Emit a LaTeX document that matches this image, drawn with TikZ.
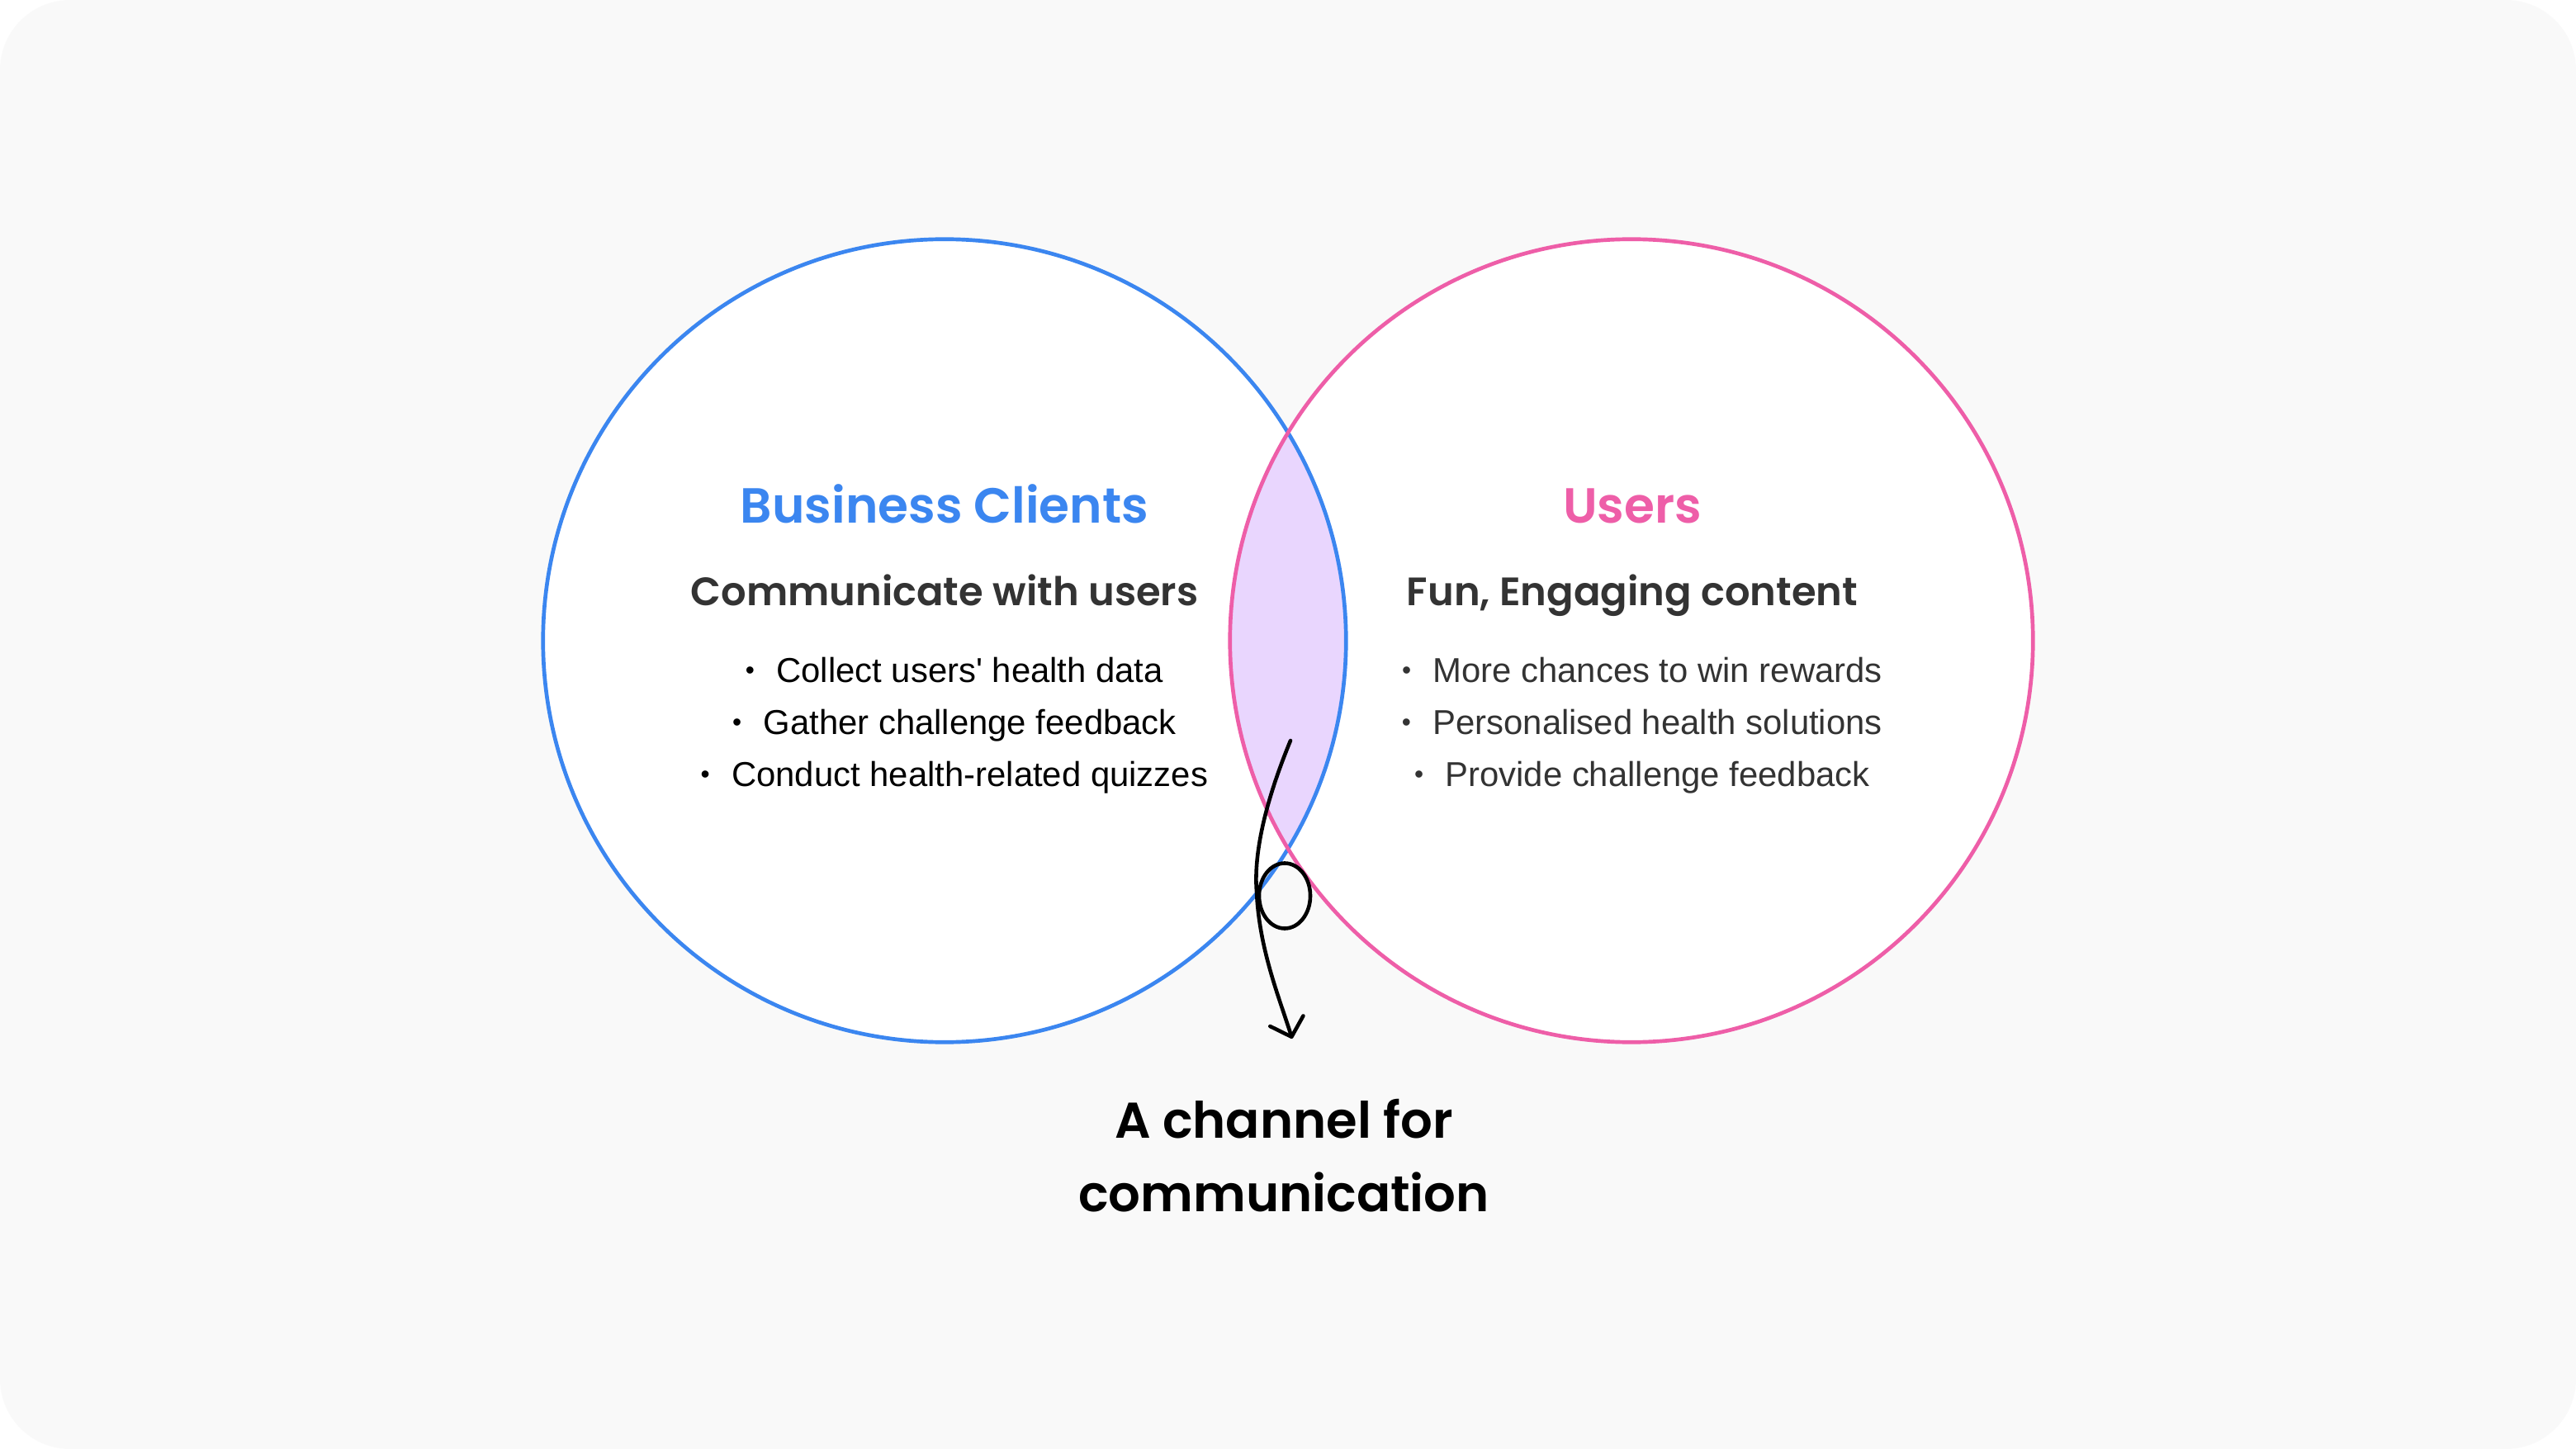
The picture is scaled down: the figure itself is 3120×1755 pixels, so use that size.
\documentclass[tikz,border=0pt]{standalone}
\usepackage{fontspec}
\setmainfont{Liberation Sans}
\newfontfamily\itemfont{Liberation Sans}[Ligatures=TeXOff]
\newfontfamily\headfont{Poppins SemiBold}
\usetikzlibrary{arrows.meta,positioning}
\definecolor{Ink}{HTML}{333333}
\definecolor{Page}{HTML}{F9F9F9}
\definecolor{Blue}{HTML}{3B86F0}
\definecolor{Pink}{HTML}{EE5EA8}
\definecolor{Lilac}{HTML}{E9D6FE}
\tikzset{
  ring/.style={line width=1.33pt},
  heading/.style={anchor=base,inner sep=0pt,font=\headfont\fontsize{17}{20}\selectfont},
  subhead/.style={anchor=base,inner sep=0pt,text=Ink,font=\headfont\fontsize{13.65}{16}\selectfont},
  bulletitem/.style={anchor=base,inner sep=0pt,font=\itemfont\fontsize{11.9}{14}\selectfont},
  note/.style={anchor=base,inner sep=0pt,align=center,font=\headfont\fontsize{17.3}{25.3}\selectfont},
  arrow/.style={-{Straight Barb[length=2mm,width=4.2mm,round]},line width=1.3pt,line cap=round}
}
\newcommand{\dotitem}{\makebox[0.35em]{\raisebox{0.08em}{\fontsize{9}{9}\selectfont\textbullet}}\hspace{0.59em}}

\begin{document}
\begin{tikzpicture}[x=0.01cm,y=-0.01cm]
  \useasboundingbox (0,0) rectangle (3120,1755);
  \fill[white] (0,0) rectangle (3120,1755);
  \fill[Page,rounded corners=0.85cm] (0,0) rectangle (3120,1755);
  % the two sets
  \fill[white] (1144,776) circle[radius=4.86cm];
  \fill[white] (1976,776) circle[radius=4.86cm];
  \begin{scope}
    \clip (1144,776) circle[radius=4.86cm];
    \fill[Lilac] (1976,776) circle[radius=4.86cm];
  \end{scope}
  \draw[ring,Blue] (1144,776) circle[radius=4.86cm];
  \draw[ring,Pink] (1976,776) circle[radius=4.86cm];
  % left set
  \node[heading,text=Blue] (clients) at (1144,634) {Business Clients};
  \node[subhead] (clientsub) at (1144,733) {Communicate with users};
  \node[bulletitem] (collect) at (1155,826) {\dotitem Collect users' health data};
  \node[bulletitem] (gather) at (1155,889) {\dotitem Gather challenge feedback};
  \node[bulletitem] (quiz) at (1155,952) {\dotitem Conduct health-related quizzes};
  % right set
  \node[heading,text=Pink] (users) at (1977,634) {Users};
  \node[subhead] (usersub) at (1977,733) {Fun, Engaging content};
  \node[bulletitem,text=Ink] (rewards) at (1988,826) {\dotitem More chances to win rewards};
  \node[bulletitem,text=Ink] (solutions) at (1988,889) {\dotitem Personalised health solutions};
  \node[bulletitem,text=Ink] (feedback) at (1988,952) {\dotitem Provide challenge feedback};
  % overlap
  \node[note] (channel) at (1555,1467) {A channel for\\communication};
  \coordinate (talk) at (1563,897);
  \coordinate (tip) at (1565,1258);
  \draw[arrow] (talk) .. controls (1535,965) and (1518,1030) .. (1522,1080)
    .. controls (1525,1150) and (1550,1210) .. (tip);
  \draw[line width=1.3pt] (1556,1085) ellipse[x radius=0.31cm,y radius=0.395cm];
\end{tikzpicture}
\end{document}
